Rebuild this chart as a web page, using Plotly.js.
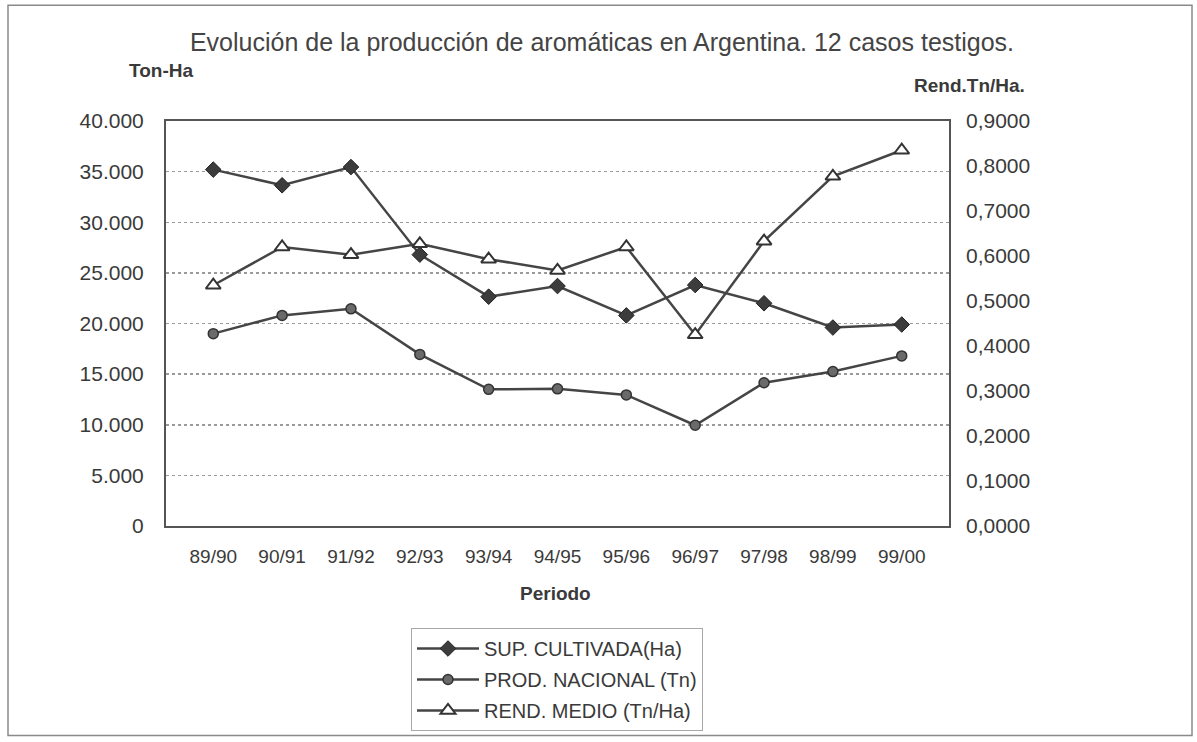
<!DOCTYPE html>
<html>
<head>
<meta charset="utf-8">
<script src="https://cdn.plot.ly/plotly-3.0.1.min.js"></script>
<style>
html,body{margin:0;padding:0;background:#fff;}
#chart{width:1197px;height:742px;}
</style>
</head>
<body>
<div id="chart"></div>
<script>
// ---- data ----
var periodos = ["89/90","90/91","91/92","92/93","93/94","94/95","95/96","96/97","97/98","98/99","99/00"];
var supCultivada = [35200, 33650, 35450, 26800, 22650, 23700, 20800, 23800, 22000, 19600, 19900];
var prodNacional = [19000, 20800, 21450, 16950, 13500, 13550, 12950, 9950, 14150, 15250, 16800];
var rendMedio = [0.535, 0.620, 0.603, 0.627, 0.593, 0.568, 0.620, 0.425, 0.633, 0.777, 0.835];
var seriesNames = ["SUP. CULTIVADA(Ha)", "PROD. NACIONAL (Tn)", "REND. MEDIO (Tn/Ha)"];
var titleText = "Evolución de la producción de aromáticas en Argentina. 12 casos testigos.";
var leftAxisLabel = "Ton-Ha";
var rightAxisLabel = "Rend.Tn/Ha.";
var xAxisLabel = "Periodo";

// ---- geometry (pixels) ----
var W = 1197, H = 742;
var L = 166, R = 949, T = 121, B = 527;
var pw = R - L, ph = B - T;
function px(x){ return (x - L) / pw; }
function py(y){ return (B - y) / ph; }

var lineCol = "#454545";
var txtCol = "#3a3a3a";
var fontFam = "Liberation Sans, Arial, sans-serif";

var traces = [
  {x: periodos, y: supCultivada, name: seriesNames[0], type: "scatter", mode: "lines+markers",
   legendgroup: "a",
   line: {color: lineCol, width: 2.5},
   marker: {symbol: "diamond", size: 12, color: "#3c3c3c", line: {color: "#222", width: 1}}},
  {x: periodos, y: prodNacional, name: seriesNames[1], type: "scatter", mode: "lines+markers",
   legendgroup: "b",
   line: {color: lineCol, width: 2.5},
   marker: {symbol: "circle", size: 10, color: "#6a6a6a", line: {color: "#333", width: 1.5}}},
  {x: periodos, y: rendMedio, name: seriesNames[2], type: "scatter", mode: "lines+markers",
   yaxis: "y2", legendgroup: "c",
   line: {color: lineCol, width: 2.5},
   marker: {symbol: "triangle-up", size: 13, color: "#ffffff", line: {color: "#333", width: 2}}}
];

var layout = {
  width: W, height: H,
  margin: {l: L, r: W - R, t: T, b: H - B, pad: 0},
  paper_bgcolor: "#ffffff",
  plot_bgcolor: "#ffffff",
  separators: ",.",
  font: {family: fontFam, color: txtCol, size: 20},
  title: {text: titleText, font: {size: 25, color: "#444", family: fontFam},
          x: 602 / W, xanchor: "center", xref: "container",
          y: 1 - 42 / H, yanchor: "middle", yref: "container"},
  showlegend: true,
  legend: {x: px(411), y: py(628), xanchor: "left", yanchor: "top",
           bordercolor: "#a8a8a8", borderwidth: 1, bgcolor: "#ffffff",
           font: {size: 20, color: txtCol, family: fontFam},
           traceorder: "grouped", tracegroupgap: 2, itemwidth: 62},
  xaxis: {type: "category", showgrid: false, zeroline: false,
          showline: true, linecolor: "#555", linewidth: 2, mirror: true,
          ticks: "", ticklabelstandoff: 12,
          tickfont: {size: 19, color: txtCol}, fixedrange: true},
  yaxis: {range: [0, 40000], dtick: 5000, tick0: 0, tickformat: ",d",
          showgrid: true, gridcolor: "#9a9a9a", griddash: "dot", gridwidth: 1.5,
          zeroline: false, showline: true, linecolor: "#555", linewidth: 2, mirror: true,
          ticks: "", ticklabelstandoff: 16,
          tickfont: {size: 21, color: txtCol}, fixedrange: true},
  yaxis2: {range: [0, 0.9], dtick: 0.1, tick0: 0, tickformat: ".4f",
           overlaying: "y", side: "right", showgrid: false, zeroline: false,
           showline: false, ticks: "", ticklabelstandoff: 16,
           tickfont: {size: 21, color: txtCol}, fixedrange: true},
  annotations: [
    {text: "<b>" + leftAxisLabel + "</b>", xref: "paper", yref: "paper",
     x: px(127), y: py(70), xanchor: "left", yanchor: "middle", showarrow: false,
     font: {size: 19, color: txtCol}},
    {text: "<b>" + rightAxisLabel + "</b>", xref: "paper", yref: "paper",
     x: px(1027), y: py(85), xanchor: "right", yanchor: "middle", showarrow: false,
     font: {size: 19, color: txtCol}},
    {text: "<b>" + xAxisLabel + "</b>", xref: "paper", yref: "paper",
     x: px(555), y: py(595), xanchor: "center", yanchor: "middle", showarrow: false,
     font: {size: 19, color: txtCol}}
  ],
  shapes: [
    {type: "rect", xref: "paper", yref: "paper",
     x0: px(8), x1: px(1192), y0: py(737), y1: py(5),
     line: {color: "#8a8a8a", width: 1.5}, fillcolor: "rgba(0,0,0,0)", layer: "below"}
  ]
};

Plotly.newPlot("chart", traces, layout, {displayModeBar: false, staticPlot: true});
</script>
</body>
</html>
